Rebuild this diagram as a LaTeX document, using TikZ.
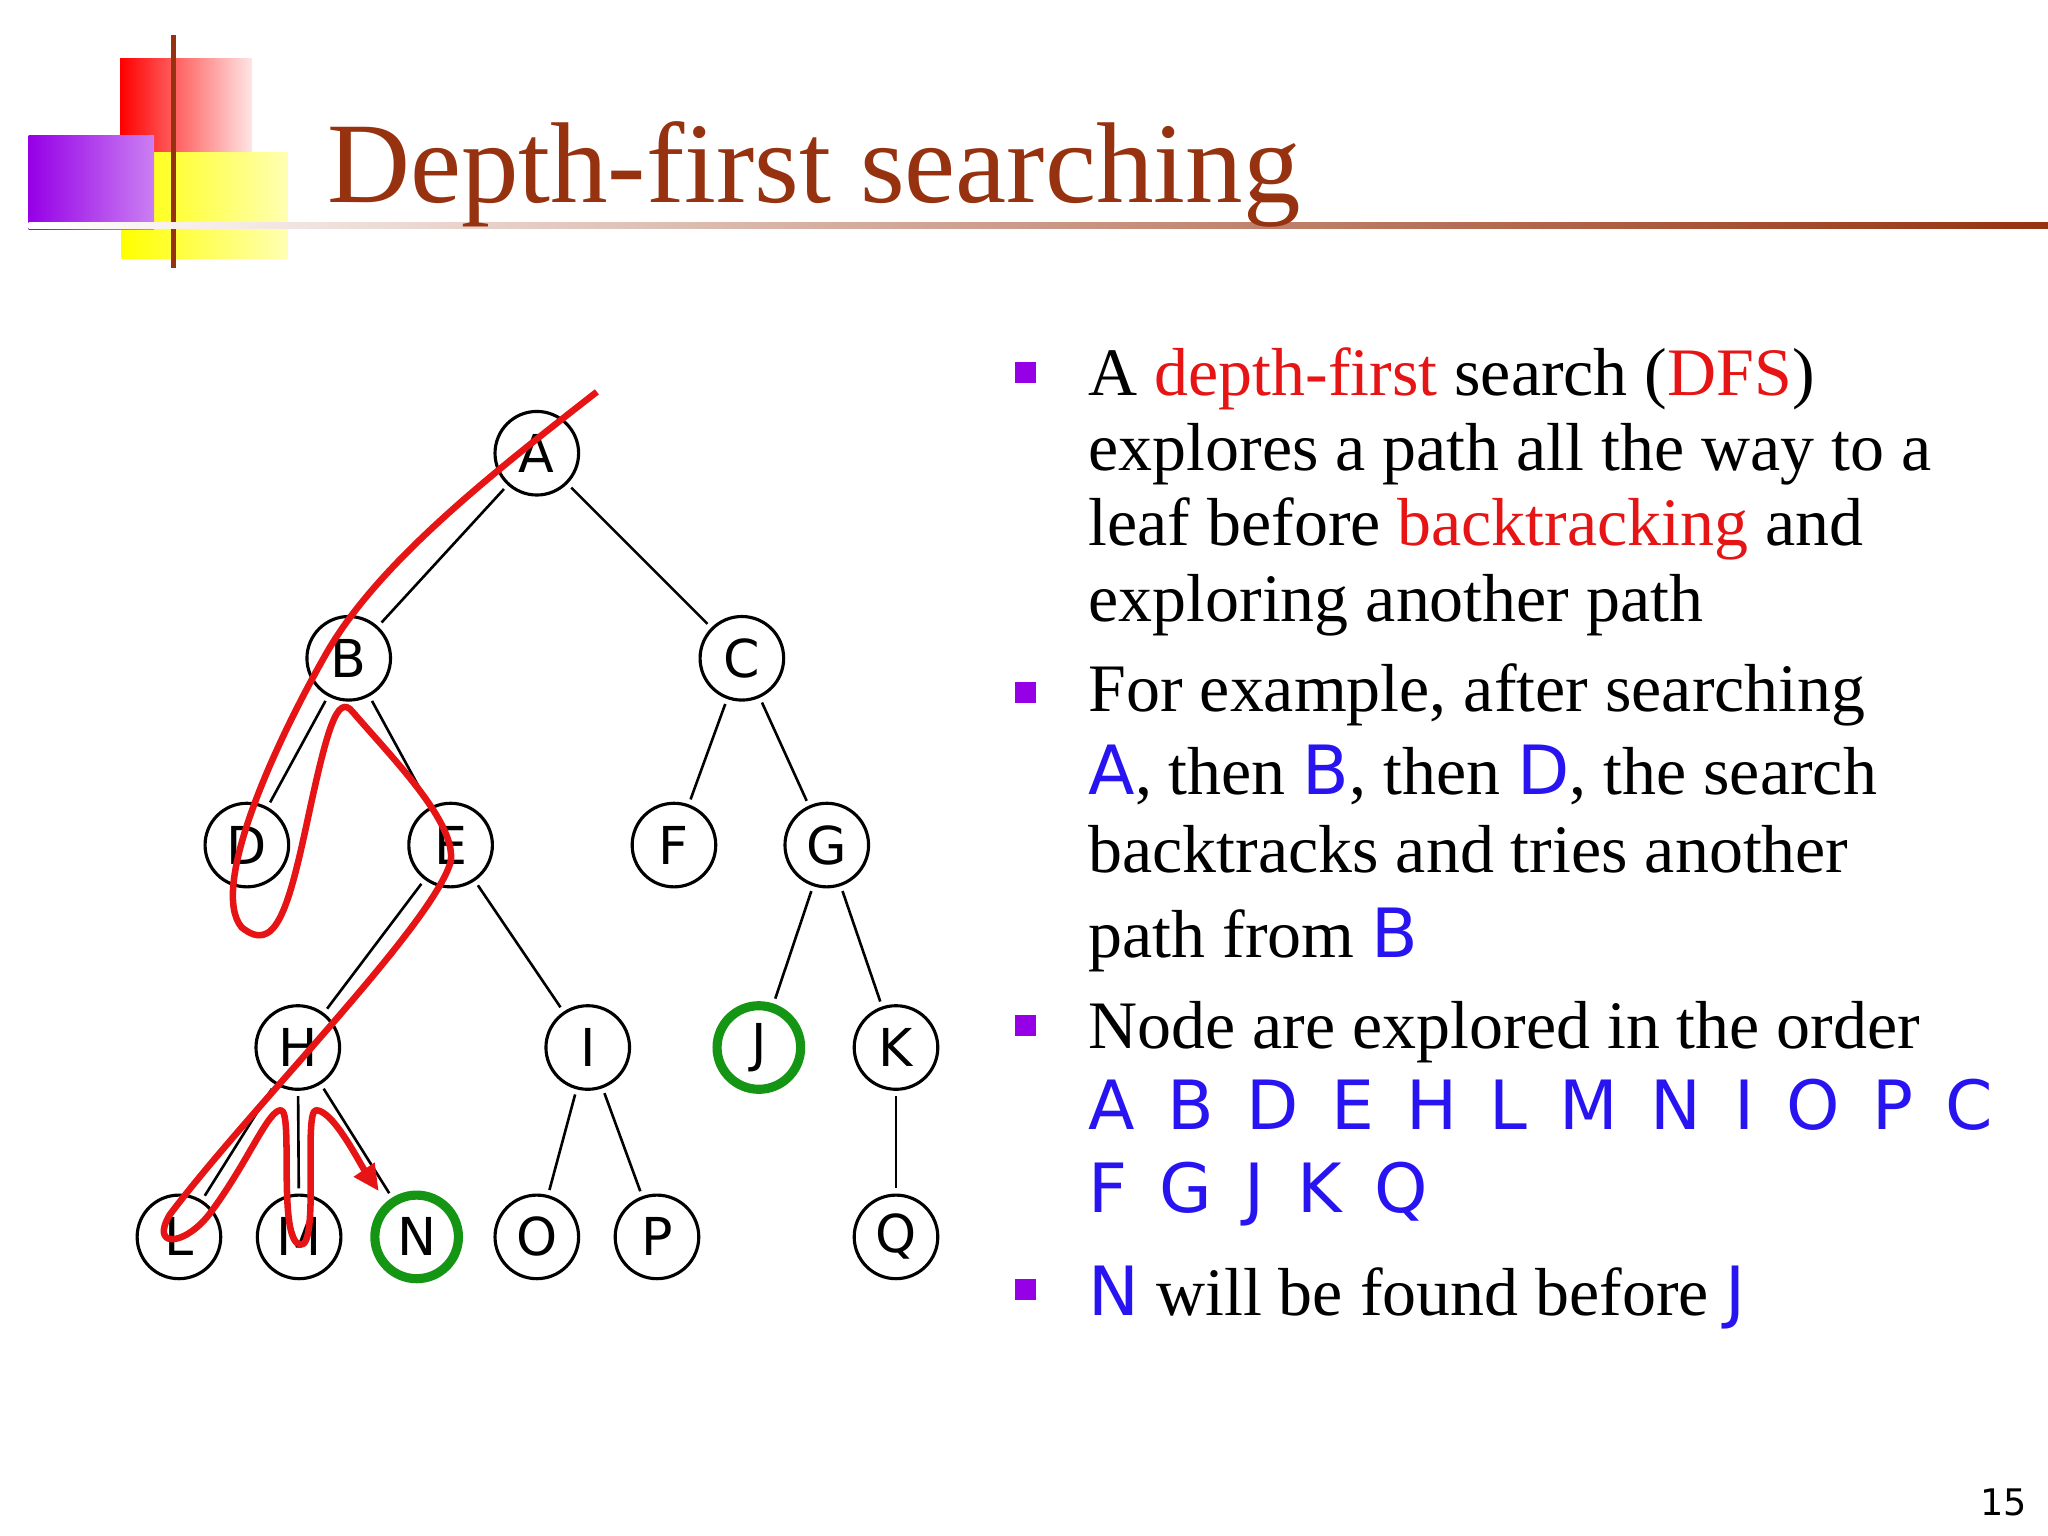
\documentclass[tikz,border=0pt]{standalone}
\usepackage{fontspec}
\setmainfont{Liberation Serif}
\newfontfamily\vsans[WordSpace=1.5]{DejaVu Sans}
\usetikzlibrary{arrows.meta}
\definecolor{ttl}{RGB}{150,50,15}
\definecolor{bul}{RGB}{150,0,230}
\definecolor{rd}{RGB}{230,20,20}
\definecolor{bl}{RGB}{40,20,240}
\definecolor{gr}{RGB}{20,150,20}
\newcommand{\R}[1]{\textcolor{rd}{#1}}
\newcommand{\B}[1]{\textcolor{bl}{\vsans #1}}
\begin{document}
\begin{tikzpicture}[x=0.5pt,y=-0.5pt,
 tn/.style={circle,draw,line width=1.2pt,minimum size=32pt,inner sep=0pt,font=\vsans\fontsize{20}{20}\selectfont},
 gn/.style={tn,draw=gr,line width=3.5pt},
 ed/.style={line width=1pt,shorten <=2pt,shorten >=2pt},
 bt/.style={anchor=base west,inner sep=0pt,font=\fontsize{26}{26}\selectfont},
 bsq/.style={fill=bul,minimum size=8pt,inner sep=0pt}]
\useasboundingbox (0,0) rectangle (1568,1176);
% logo
\shade[left color=red,right color=red!10] (92,45) rectangle (193,117);
\shade[left color=yellow,right color=yellow!30] (93,117) rectangle (220,198);
\shade[left color=bul,right color=bul!50] (22,104) rectangle (118,176);
\draw[ttl,line width=2pt] (133,27) -- (133,205);
\shade[left color=white,right color=ttl] (22,170) rectangle (1568,175);
\node[anchor=base west,inner sep=0pt,text=ttl,font=\fontsize{44}{44}\selectfont] (title) at (250,155) {Depth-first searching};
% tree
\node[tn] (A) at (411,347) {A};
\node[tn] (B) at (267,504) {B};
\node[tn] (C) at (568,504) {C};
\node[tn] (D) at (189,647) {D};
\node[tn] (E) at (345,647) {E};
\node[tn] (F) at (516,647) {F};
\node[tn] (G) at (633,647) {G};
\node[tn] (H) at (228,802) {H};
\node[tn] (I) at (450,802) {I};
\node[gn] (J) at (581,802) {J};
\node[tn] (K) at (686,802) {K};
\node[tn] (L) at (137,947) {L};
\node[tn] (M) at (229,947) {M};
\node[gn] (N) at (319,947) {N};
\node[tn] (O) at (411,947) {O};
\node[tn] (P) at (503,947) {P};
\node[tn] (Q) at (686,947) {Q};
\foreach \a/\b in {A/B,A/C,B/D,B/E,C/F,C/G,E/H,E/I,G/J,G/K,H/L,H/M,H/N,I/O,I/P,K/Q}
  \draw[ed] (\a) -- (\b);
% red path
\coordinate (rs) at (457,300);
\coordinate (re) at (290,912);
\draw[rd,line width=2.5pt,line join=round,-{Triangle[length=10pt,width=9pt]}]
 (rs) .. controls (380,360) and (290,430) .. (250,500)
 .. controls (210,570) and (160,680) .. (185,710)
 .. controls (210,730) and (220,700) .. (235,630)
 .. controls (250,560) and (258,530) .. (270,545)
 .. controls (300,580) and (350,630) .. (345,660)
 .. controls (330,710) and (190,850) .. (130,930)
 .. controls (115,955) and (140,955) .. (160,930)
 .. controls (190,890) and (205,850) .. (215,850)
 .. controls (225,850) and (212,950) .. (230,953)
 .. controls (245,955) and (232,850) .. (242,850)
 .. controls (255,850) and (275,890) .. (re);
% bullets
\node[bsq] (b1) at (785,285) {};
\node[bsq] (b2) at (785,530) {};
\node[bsq] (b3) at (785,785) {};
\node[bsq] (b4) at (785,987) {};
\node[bt] (t1) at (833,303) {A \R{depth-first} search (\R{DFS})};
\node[bt] (t2) at (833,360) {explores a path all the way to a};
\node[bt] (t3) at (833,418) {leaf before \R{backtracking} and};
\node[bt] (t4) at (833,476) {exploring another path};
\node[bt] (t5) at (833,545) {For example, after searching};
\node[bt] (t6) at (833,608) {\B{A}, then \B{B}, then \B{D}, the search};
\node[bt] (t7) at (833,668) {backtracks and tries another};
\node[bt] (t8) at (833,733) {path from \B{B}};
\node[bt] (t9) at (833,803) {Node are explored in the order};
\node[bt] (t10) at (833,865) {\B{A B D E H L M N I O P C}};
\node[bt] (t11) at (833,928) {\B{F G J K Q}};
\node[bt] (t12) at (833,1007) {\B{N} will be found before \B{J}};
\node[anchor=base east,inner sep=0pt,font=\vsans\fontsize{14}{14}\selectfont] (pg) at (1552,1160) {15};
\end{tikzpicture}
\end{document}
